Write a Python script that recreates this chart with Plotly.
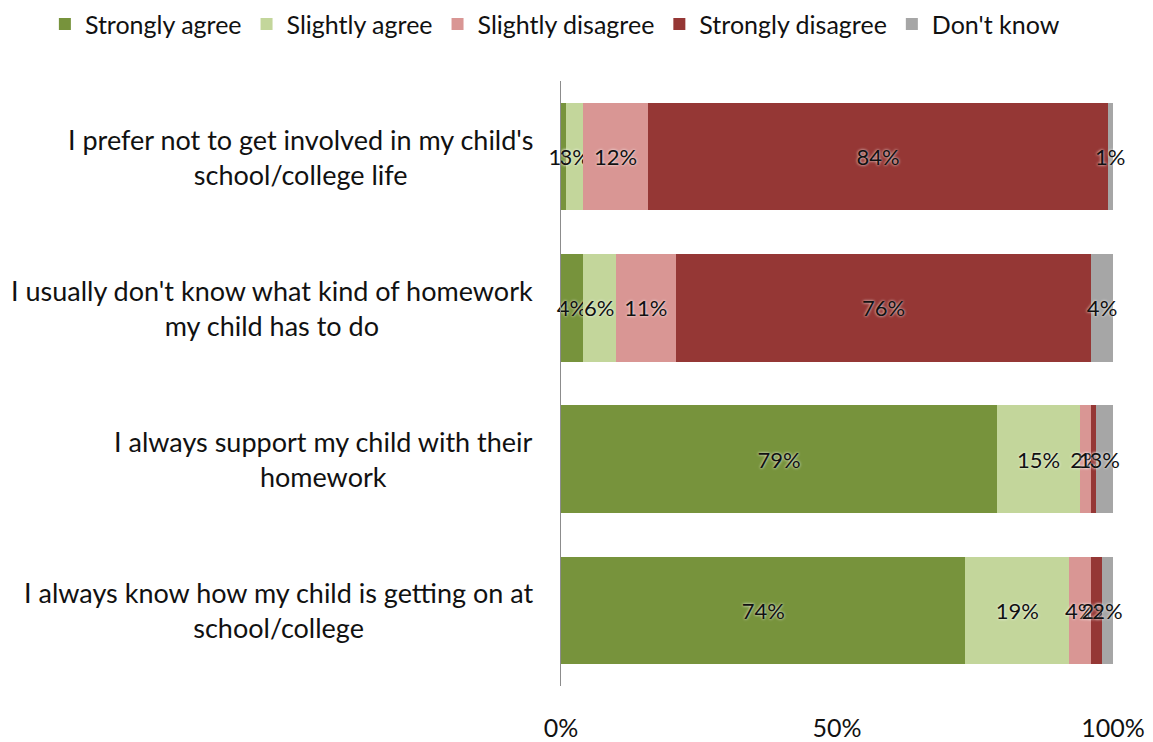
import plotly.graph_objects as go

# Survey statements, top to bottom
statements = [
    "I prefer not to get involved in my child's<br>school/college life",
    "I usually don't know what kind of homework<br>my child has to do",
    "I always support my child with their<br>homework",
    "I always know how my child is getting on at<br>school/college",
]
keys = ["s1", "s2", "s3", "s4"]

series_names = ["Strongly agree", "Slightly agree", "Slightly disagree", "Strongly disagree", "Don't know"]
strongly_agree = [1, 4, 79, 74]
slightly_agree = [3, 6, 15, 19]
slightly_disagree = [12, 11, 2, 4]
strongly_disagree = [84, 76, 1, 2]
dont_know = [1, 4, 3, 2]

x_ticks = [0, 50, 100]
x_tick_text = ["0%", "50%", "100%"]

colors = ["#77933C", "#C3D69B", "#D99694", "#953735", "#A6A6A6"]
FONT = "Lato, 'DejaVu Sans', sans-serif"
label_font = dict(family=FONT, size=22, color="#111111",
                  shadow="0px 0px 3px #ffffff")

fig = go.Figure()
for name, vals, col in zip(
    series_names,
    [strongly_agree, slightly_agree, slightly_disagree, strongly_disagree, dont_know],
    colors,
):
    fig.add_trace(go.Bar(
        y=keys, x=vals, name=name, orientation="h",
        marker=dict(color=col, line=dict(width=0)),
        text=[f"{v}%" for v in vals],
        textposition="inside", insidetextanchor="middle", textangle=0,
        constraintext="none", cliponaxis=False,
        textfont=label_font, insidetextfont=label_font,
    ))

# Category labels, centred multi-line text to the left of the axis
for k, s in zip(keys, statements):
    fig.add_annotation(x=-0.047, xref="paper", y=k, yref="y", text=s,
                       xanchor="right", yanchor="middle", align="center",
                       showarrow=False,
                       font=dict(family=FONT, size=27, color="#111111"))

fig.update_layout(
    width=1153, height=742,
    barmode="stack", barnorm="percent", bargap=0.29,
    margin=dict(l=561, r=40, t=81, b=56, autoexpand=False),
    paper_bgcolor="white", plot_bgcolor="white",
    font=dict(family=FONT, size=24, color="#111111"),
    legend=dict(orientation="h", x=-0.935, xanchor="left", xref="paper",
                y=1.132, yanchor="top", yref="paper",
                font=dict(family=FONT, size=25, color="#111111"),
                traceorder="normal", itemwidth=30, bgcolor="rgba(0,0,0,0)"),
    xaxis=dict(range=[0, 100], tickvals=x_ticks, ticktext=x_tick_text,
               showgrid=False, zeroline=False, showline=False,
               ticklabelstandoff=25,
               tickfont=dict(family=FONT, size=25, color="#111111")),
    yaxis=dict(autorange="reversed", showticklabels=False, showgrid=False,
               showline=True, linecolor="#8c8c8c", linewidth=1, ticks=""),
    showlegend=True,
)

fig.write_html("out.html")
